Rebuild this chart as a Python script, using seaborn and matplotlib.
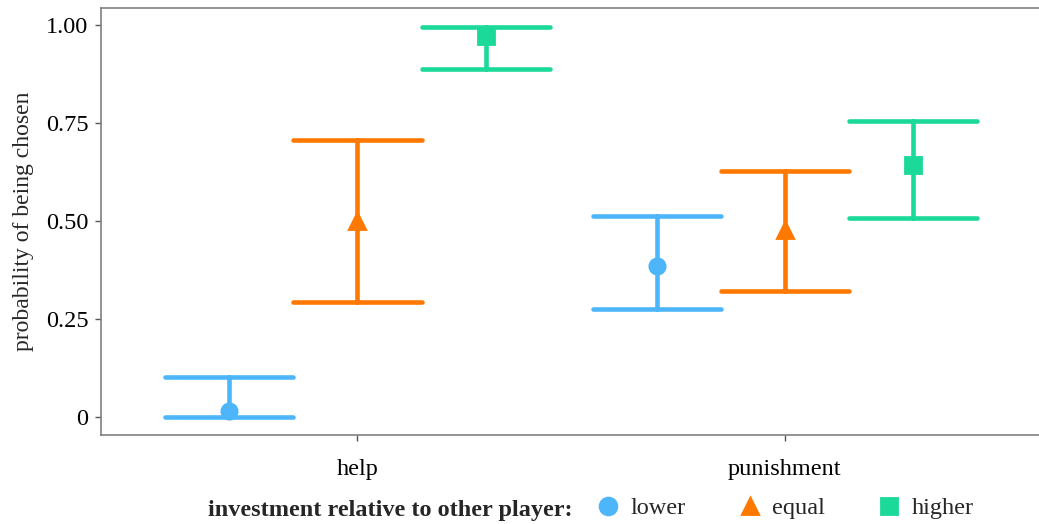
import numpy as np
import pandas as pd
import matplotlib
matplotlib.use("Agg")
import matplotlib.pyplot as plt
import seaborn as sns

contexts = ["help", "punishment"]
levels = ["lower", "equal", "higher"]
# estimate, lower CI, upper CI per context x level
est = {"help": [0.015, 0.50, 0.972], "punishment": [0.385, 0.477, 0.643]}
lo = {"help": [0.0, 0.293, 0.888], "punishment": [0.276, 0.321, 0.508]}
hi = {"help": [0.102, 0.707, 0.995], "punishment": [0.513, 0.628, 0.755]}
colors = ["#4DB6FA", "#FF7800", "#1BD998"]
markers = ["o", "^", "s"]
yticks = [0, 0.25, 0.5, 0.75, 1.0]
yticklabels = ["0", "0.25", "0.50", "0.75", "1.00"]

rows = []
for c in contexts:
    for i, l in enumerate(levels):
        for v in (lo[c][i], est[c][i], hi[c][i]):
            rows.append({"context": c, "level": l, "p": v})
df = pd.DataFrame(rows)

sns.set_theme(style="white")
plt.rcParams["font.family"] = ["Liberation Serif", "DejaVu Serif"]

fig = plt.figure(figsize=(10.39, 5.24), dpi=100)
ax = fig.add_axes([0.0972, 0.170, 0.905, 0.815])

sns.pointplot(data=df, x="context", y="p", hue="level", order=contexts,
              hue_order=levels, palette=colors, markers=markers,
              estimator=np.median, errorbar=lambda x: (x.min(), x.max()),
              dodge=0.6, linestyle="none", capsize=0.3,
              err_kws={"linewidth": 3.3}, markersize=11, ax=ax)

ax.set_xlim(-0.6, 1.6)
ax.set_ylim(-0.046, 1.043)
ax.set_yticks(yticks)
ax.set_yticklabels(yticklabels)
ax.set_xlabel("")
ax.set_ylabel("probability of being chosen", fontsize=17)
ax.yaxis.set_label_coords(-0.0715, 0.5)
ax.tick_params(axis="both", labelsize=17.5, color="#555555", length=4, width=1,
               left=True, bottom=True, labelcolor="black")
ax.tick_params(axis="x", pad=13)
ax.tick_params(axis="y", pad=5)
for s in ["left", "top", "bottom"]:
    ax.spines[s].set_color("#808080")
    ax.spines[s].set_linewidth(1.2)
ax.spines["right"].set_visible(False)

handles, labels = ax.get_legend_handles_labels()
ax.get_legend().remove()
fig.text(0.2, 0.016, "investment relative to other player:", fontsize=17.5,
         fontweight="bold", ha="left", va="baseline")
fig.legend(handles, labels, loc="center left", bbox_to_anchor=(0.5736, 0.0305),
           ncol=3, frameon=False, fontsize=17.5, handletextpad=0.43,
           handlelength=1.0, columnspacing=2.13, markerscale=1.1,
           borderpad=0, borderaxespad=0)

fig.savefig("out.png", dpi=100)
